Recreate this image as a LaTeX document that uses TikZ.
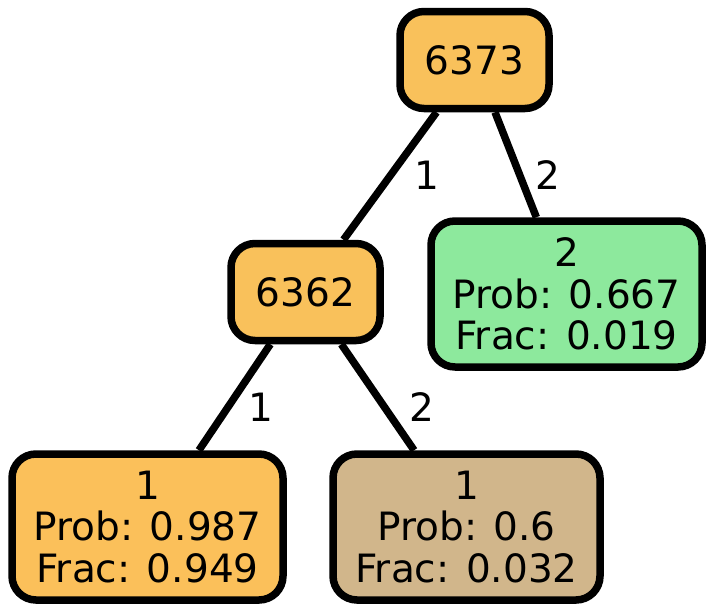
\documentclass[tikz,border=0pt]{standalone}
\usepackage{fontspec}
\setmainfont{DejaVu Sans}
\definecolor{leafor}{HTML}{FBC05A}
\definecolor{rootor}{HTML}{F9C15B}
\definecolor{leafgr}{HTML}{8DE99D}
\definecolor{leaftan}{HTML}{D1B68B}
\begin{document}
\begin{tikzpicture}[x=1pt, y=-1pt,
    treenode/.style={draw, line width=7.5pt, rounded corners=24pt, align=center,
        inner sep=0pt, font=\fontsize{39}{41.5}\selectfont},
    smallbox/.style={treenode, minimum width=149pt, minimum height=97pt},
    bigbox/.style={treenode, minimum height=146pt},
    edge/.style={line width=7.5pt},
    elabel/.style={font=\fontsize{39}{41.5}\selectfont}]
    \useasboundingbox (0,0) rectangle (714,613);

    \node [smallbox, fill=rootor] (n6373) at (474.5, 60) {6373};
    \node [smallbox, fill=rootor] (n6362) at (305.5, 292) {6362};
    \node [bigbox, fill=leafgr, minimum width=271pt] (leaf2) at (566.5, 294)
        {2\\Prob: 0.667\\Frac: 0.019};
    \node [bigbox, fill=leafor, minimum width=271pt] (leafa) at (147.5, 527)
        {1\\Prob: 0.987\\Frac: 0.949};
    \node [bigbox, fill=leaftan, minimum width=267pt] (leafb) at (466.5, 527)
        {1\\Prob: 0.6\\Frac: 0.032};

    \draw [edge] (n6373) -- (n6362);
    \node [elabel] (l1) at (427, 175) {1};
    \draw [edge] (n6373) -- (leaf2);
    \node [elabel] (l2) at (548, 175) {2};

    \draw [edge] (n6362) -- (leafa);
    \node [elabel] (l3) at (261, 407) {1};
    \draw [edge] (n6362) -- (leafb);
    \node [elabel] (l4) at (422, 407) {2};

\end{tikzpicture}
\end{document}
